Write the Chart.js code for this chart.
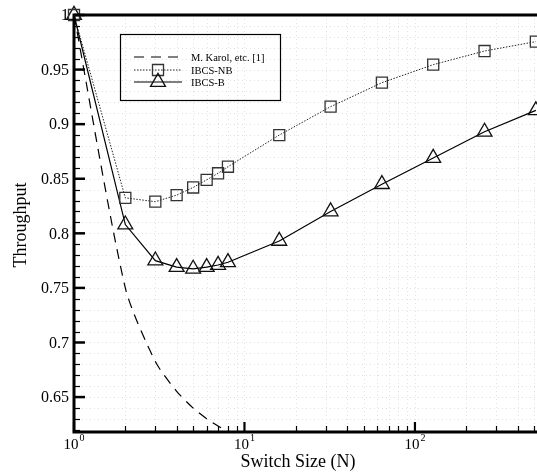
<!DOCTYPE html>
<html>
<head>
<meta charset="utf-8">
<script src="https://cdn.jsdelivr.net/npm/chart.js@4.4.1/dist/chart.umd.min.js"></script>
<style>
  html, body { margin: 0; padding: 0; background: #fff; overflow: hidden; }
  #wrap { width: 537px; height: 475px; position: relative; }
  #chart { display: block; }
</style>
</head>
<body>
<div id="wrap"><canvas id="chart"></canvas></div>
<script>
// Data
const switchSizes = [1, 2, 3, 4, 5, 6, 7, 8, 16, 32, 64, 128, 256, 512];
const karolSizes = [1, 2, 3, 4, 5, 6, 7, 8];
const karolThroughput = [1.0, 0.75, 0.6825, 0.6553, 0.6399, 0.6302, 0.6234, 0.6184];
const nbThroughput = [1.0, 0.8325, 0.829, 0.835, 0.842, 0.849, 0.855, 0.861, 0.890, 0.916, 0.938, 0.9545, 0.967, 0.9756];
const bThroughput = [1.0, 0.808, 0.775, 0.769, 0.7675, 0.769, 0.771, 0.7735, 0.793, 0.820, 0.845, 0.869, 0.893, 0.9126];
const seriesLabels = ['M. Karol, etc. [1]', 'IBCS-NB', 'IBCS-B'];

// Axis ticks
const yMajorTicks = [0.65, 0.7, 0.75, 0.8, 0.85, 0.9, 0.95, 1];
const yTickLabels = ['0.65', '0.7', '0.75', '0.8', '0.85', '0.9', '0.95', '1'];
const yMinorTicks = [0.62, 0.63, 0.64, 0.66, 0.67, 0.68, 0.69, 0.71, 0.72, 0.73, 0.74, 0.76, 0.77, 0.78, 0.79,
  0.81, 0.82, 0.83, 0.84, 0.86, 0.87, 0.88, 0.89, 0.91, 0.92, 0.93, 0.94, 0.96, 0.97, 0.98, 0.99];
const xMajorTicks = [1, 10, 100];
const xTickExponents = ['0', '1', '2'];
const xMinorTicks = [2, 3, 4, 5, 6, 7, 8, 9, 20, 30, 40, 50, 60, 70, 80, 90, 200, 300, 400, 500];

const xTitle = 'Switch Size (N)';
const yTitle = 'Throughput';
const SERIF = "'Liberation Serif', 'DejaVu Serif', serif";

const toPoints = (xs, ys) => xs.map((x, i) => ({ x: x, y: ys[i] }));

// grid, axes, ticks, titles and legend drawn by hand (inward ticks, superscripts)
const framePlugin = {
  id: 'frame',
  beforeDatasetsDraw(chart) {
    const { ctx, chartArea: a, scales: { x, y } } = chart;
    ctx.save();
    ctx.strokeStyle = '#e2e2e2';
    ctx.lineWidth = 1;
    ctx.setLineDash([1, 3]);
    xMinorTicks.concat(xMajorTicks.slice(1)).forEach(v => {
      const px = Math.round(x.getPixelForValue(v)) + 0.5;
      ctx.beginPath(); ctx.moveTo(px, a.top); ctx.lineTo(px, a.bottom); ctx.stroke();
    });
    yMinorTicks.concat(yMajorTicks.slice(0, -1)).forEach(v => {
      const py = Math.round(y.getPixelForValue(v)) + 0.5;
      ctx.beginPath(); ctx.moveTo(a.left, py); ctx.lineTo(a.right, py); ctx.stroke();
    });
    ctx.restore();
  },
  afterDatasetsDraw(chart) {
    const { ctx, chartArea: a, scales: { x, y } } = chart;
    ctx.save();
    ctx.setLineDash([]);
    ctx.strokeStyle = '#000';

    // axis lines
    ctx.lineWidth = 3;
    ctx.beginPath();
    ctx.moveTo(a.right + 2, a.top); ctx.lineTo(a.left, a.top);
    ctx.lineTo(a.left, a.bottom); ctx.lineTo(a.right + 2, a.bottom);
    ctx.stroke();

    // y ticks (inward)
    yMajorTicks.forEach(v => {
      const py = y.getPixelForValue(v);
      ctx.lineWidth = 2.5;
      ctx.beginPath(); ctx.moveTo(a.left, py); ctx.lineTo(a.left + 11, py); ctx.stroke();
    });
    yMinorTicks.forEach(v => {
      const py = Math.round(y.getPixelForValue(v)) + 0.5;
      ctx.lineWidth = 1.2;
      ctx.beginPath(); ctx.moveTo(a.left, py); ctx.lineTo(a.left + 6, py); ctx.stroke();
    });
    // x ticks (inward)
    xMajorTicks.forEach(v => {
      const px = x.getPixelForValue(v);
      ctx.lineWidth = 2.2;
      ctx.beginPath(); ctx.moveTo(px, a.bottom); ctx.lineTo(px, a.bottom - 10); ctx.stroke();
    });
    xMinorTicks.forEach(v => {
      const px = Math.round(x.getPixelForValue(v)) + 0.5;
      ctx.lineWidth = 1.2;
      ctx.beginPath(); ctx.moveTo(px, a.bottom); ctx.lineTo(px, a.bottom - 6); ctx.stroke();
    });

    // y tick labels
    ctx.fillStyle = '#000';
    ctx.font = '16px ' + SERIF;
    ctx.textAlign = 'right';
    ctx.textBaseline = 'middle';
    yMajorTicks.forEach((v, i) => {
      ctx.fillText(yTickLabels[i], a.left - 5, y.getPixelForValue(v) + 1);
    });

    // x tick labels 10^k
    ctx.textAlign = 'left';
    ctx.textBaseline = 'alphabetic';
    xMajorTicks.forEach((v, i) => {
      const px = x.getPixelForValue(v);
      ctx.font = '15px ' + SERIF;
      const w = ctx.measureText('10').width;
      ctx.font = '10px ' + SERIF;
      const ws = ctx.measureText(xTickExponents[i]).width;
      const left = px - (w + ws + 1) / 2;
      ctx.font = '15px ' + SERIF;
      ctx.fillText('10', left, a.bottom + 17);
      ctx.font = '10px ' + SERIF;
      ctx.fillText(xTickExponents[i], left + w + 1, a.bottom + 9);
    });

    // axis titles
    ctx.font = '18px ' + SERIF;
    ctx.textAlign = 'center';
    ctx.fillText(xTitle, 298, 467);
    ctx.save();
    ctx.translate(26, 225);
    ctx.rotate(-Math.PI / 2);
    ctx.fillText(yTitle, 0, 0);
    ctx.restore();

    // legend box
    ctx.lineWidth = 1.2;
    ctx.strokeStyle = '#000';
    ctx.strokeRect(120.5, 34.5, 160, 66);
    const rows = [57, 70, 82];
    chart.data.datasets.forEach((ds, i) => {
      const ry = rows[i];
      ctx.save();
      ctx.strokeStyle = ds.borderColor;
      ctx.lineWidth = ds.borderWidth;
      ctx.setLineDash(ds.borderDash || []);
      ctx.beginPath(); ctx.moveTo(134, ry); ctx.lineTo(182, ry); ctx.stroke();
      ctx.restore();
      if (ds.pointRadius > 0) {
        ctx.save();
        ctx.setLineDash([]);
        ctx.fillStyle = 'rgba(0,0,0,0)';
        ctx.strokeStyle = ds.pointBorderColor;
        ctx.lineWidth = ds.pointBorderWidth;
        Chart.helpers.drawPoint(ctx, {
          pointStyle: ds.pointStyle, radius: ds.pointRadius, rotation: 0,
          borderWidth: ds.pointBorderWidth
        }, 158, ry);
        ctx.restore();
      }
      ctx.fillStyle = '#000';
      ctx.font = '10.5px ' + SERIF;
      ctx.textAlign = 'left';
      ctx.textBaseline = 'middle';
      ctx.fillText(ds.label, 191, ry + 1);
    });
    ctx.restore();
  }
};

new Chart(document.getElementById('chart'), {
  type: 'line',
  data: {
    datasets: [
      {
        label: seriesLabels[0],
        data: toPoints(karolSizes, karolThroughput),
        borderColor: '#000',
        borderWidth: 1.2,
        borderDash: [10, 7],
        pointRadius: 0,
        tension: 0.25,
        clip: false
      },
      {
        label: seriesLabels[1],
        data: toPoints(switchSizes, nbThroughput),
        borderColor: '#222',
        borderWidth: 1,
        borderDash: [1.5, 1.5],
        pointStyle: 'rect',
        pointRadius: 7.8,
        pointBorderWidth: 1.3,
        pointBorderColor: '#333',
        pointBackgroundColor: 'rgba(0,0,0,0)',
        clip: false
      },
      {
        label: seriesLabels[2],
        data: toPoints(switchSizes, bThroughput),
        borderColor: '#000',
        borderWidth: 1.2,
        pointStyle: 'triangle',
        pointRadius: 8.6,
        pointBorderWidth: 1.3,
        pointBorderColor: '#111',
        pointBackgroundColor: 'rgba(0,0,0,0)',
        clip: false
      }
    ]
  },
  options: {
    responsive: true,
    maintainAspectRatio: false,
    animation: false,
    layout: { autoPadding: false, padding: { left: 74, top: 15, right: 0, bottom: 43 } },
    plugins: { legend: { display: false }, tooltip: { enabled: false } },
    scales: {
      x: { type: 'logarithmic', min: 1, max: 520, display: false },
      y: { type: 'linear', min: 0.618, max: 1.0, display: false }
    }
  },
  plugins: [framePlugin]
});
</script>
</body>
</html>
